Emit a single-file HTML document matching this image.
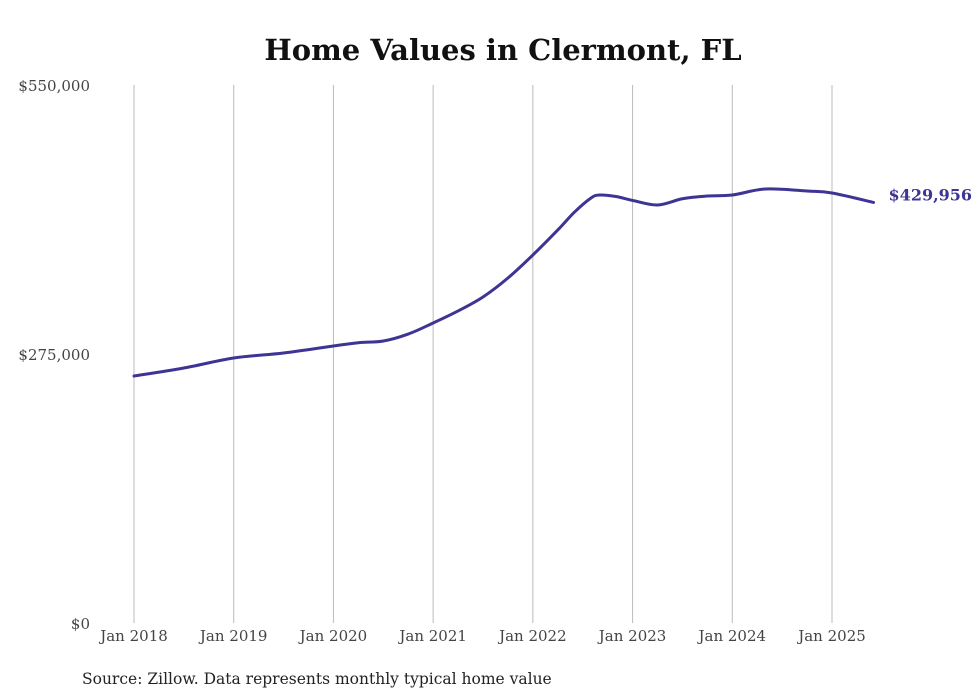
<!DOCTYPE html>
<html><head><meta charset="utf-8"><style>
body{margin:0;background:#fff;width:980px;height:699px;overflow:hidden}
svg{display:block}
text{font-family:"DejaVu Serif","Liberation Serif",serif}
</style></head><body>
<svg id="chart" width="980" height="699">
<text x="503" y="60" text-anchor="middle" font-size="29" font-weight="bold" fill="#111">Home Values in Clermont, FL</text>
<g id="grid"></g>
<g id="yaxis"></g>
<g id="xaxis"></g>
<path id="line" fill="none" stroke="#3d3494" stroke-width="3" stroke-linejoin="round" stroke-linecap="round"/>
<text id="endlabel" font-size="16" font-weight="bold" fill="#3d3494"></text>
<text x="82" y="684" font-size="15.5" fill="#222">Source: Zillow. Data represents monthly typical home value</text>
</svg>
<script>
// months since Jan 2018
const months=[0,6,12,18,24,27,30,33,36,39,42,45,48,51,53,55,56,58,60,63,66,69,72,76,81,84,89];
const values=[252500,260700,270900,276000,283200,286500,288300,295400,306700,319000,333300,352700,376200,401800,420000,434500,437500,436000,432000,427300,433700,436500,437500,443700,441600,439600,429956];
const yTicks=[0,275000,550000];
const yTickLabels=["$0","$275,000","$550,000"];
const xTickYears=[2018,2019,2020,2021,2022,2023,2024,2025];
const NS="http://www.w3.org/2000/svg";
const x=m=>134+m*(698/84);
const y=v=>623-v*(538/550000);
const grid=document.getElementById('grid'),xa=document.getElementById('xaxis'),ya=document.getElementById('yaxis');
xTickYears.forEach(yr=>{
  const px=x((yr-2018)*12);
  const l=document.createElementNS(NS,'line');
  
  
  l.setAttribute('x1',px);l.setAttribute('x2',px);l.setAttribute('y1',85);l.setAttribute('y2',623);
  l.setAttribute('stroke','#bbb');l.setAttribute('stroke-width','1');
  grid.appendChild(l);
  const t=document.createElementNS(NS,'text');
  
  
  t.setAttribute('x',px);t.setAttribute('y',641);t.setAttribute('text-anchor','middle');
  t.setAttribute('font-size','15');t.setAttribute('fill','#444');
  t.textContent='Jan '+yr;xa.appendChild(t);
});
yTicks.forEach((v,i)=>{
  const t=document.createElementNS(NS,'text');
  
  
  t.setAttribute('x',90);t.setAttribute('y',y(v)+6);t.setAttribute('text-anchor','end');
  t.setAttribute('font-size','15');t.setAttribute('fill','#444');
  t.textContent=yTickLabels[i];ya.appendChild(t);
});
const pts=months.map((m,i)=>[x(m),y(values[i])]);
let d='M'+pts[0][0]+','+pts[0][1];
for(let i=0;i<pts.length-1;i++){
  const p0=pts[Math.max(0,i-1)],p1=pts[i],p2=pts[i+1],p3=pts[Math.min(pts.length-1,i+2)];
  const c1=[p1[0]+(p2[0]-p0[0])/6,p1[1]+(p2[1]-p0[1])/6];
  const c2=[p2[0]-(p3[0]-p1[0])/6,p2[1]-(p3[1]-p1[1])/6];
  d+=' C'+c1[0]+','+c1[1]+' '+c2[0]+','+c2[1]+' '+p2[0]+','+p2[1];
}
document.getElementById('line').setAttribute('d',d);
const last=pts[pts.length-1];
const el=document.getElementById('endlabel');
el.setAttribute('x',last[0]+15);el.setAttribute('y',last[1]-2);
el.textContent='$'+values[values.length-1].toLocaleString('en-US');
</script>
</body></html>
